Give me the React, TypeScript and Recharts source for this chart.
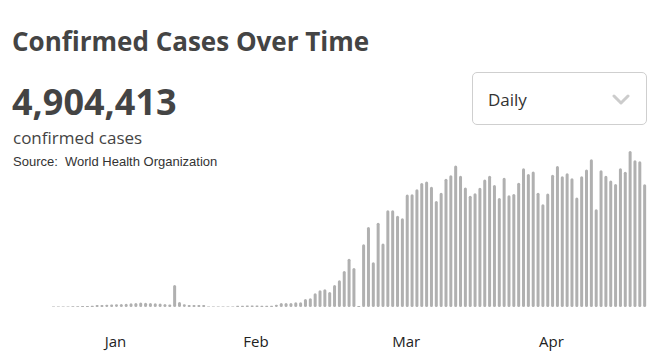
import * as React from "react";
import { BarChart, Bar, XAxis, YAxis } from "recharts";

// daily new confirmed cases, Jan 18 -> May 19 (2020)
const START_DATE = "2020-01-18";
const DAILY_CASES = [
  // Jan 18 - Jan 31
  300, 300, 300, 400, 500, 500, 700, 700, 800, 1400, 1400, 1600, 1700, 1900,
  // Feb
  2100, 2300, 2500, 2800, 3100, 3000, 2800, 2600, 2400, 2100, 1700, 15100, 3400, 1900,
  1400, 1400, 1400, 1300, 400, 400, 300, 400, 300, 400, 900, 900, 1000, 1100, 1100,
  // Mar
  900, 900, 900, 1600, 2800, 2800, 2800, 3200, 3200, 5500, 6000, 9400, 11500, 12200,
  10300, 15100, 18400, 24800, 33200, 26800, 700, 43100, 55000, 30800, 58000, 43600,
  66500, 66500, 62800, 61000, 77300,
  // Apr
  77500, 81000, 85300, 86200, 82600, 72900, 78600, 88100, 90600, 97200, 90300, 82100,
  76400, 78200, 81900, 87600, 90300, 83900, 75000, 88800, 76800, 77700, 85500, 95400,
  91500, 93100, 78600, 70700, 78000, 91000,
  // May 1 - May 19
  97000, 89900, 92000, 88500, 75200, 89900, 94500, 101600, 67200, 94000, 90300, 86900,
  84600, 95400, 92900, 107300, 100900, 100200, 84400,
];

// month labels sit on the last day of each month
const TICK_DATES = ["2020-01-31", "2020-02-29", "2020-03-31", "2020-04-30"];
const TICK_LABELS = ["Jan", "Feb", "Mar", "Apr"];

const TOTAL = "4,904,413";

const BAR_COLOR = "#b0b0b0";
const TEXT_DARK = "#444444";

function buildData() {
  const start = new Date(START_DATE + "T00:00:00Z");
  return DAILY_CASES.map((cases, i) => {
    const d = new Date(start.getTime() + i * 86400000);
    return { date: d.toISOString().slice(0, 10), cases };
  });
}

const MonthTick = (props: any) => {
  const { x, y, payload } = props;
  const idx = TICK_DATES.indexOf(payload.value);
  return (
    <text
      x={x - 1}
      y={y + 40}
      textAnchor="middle"
      fill="#222"
      fontSize={15}
      fontFamily="'Open Sans', sans-serif"
    >
      {idx >= 0 ? TICK_LABELS[idx] : ""}
    </text>
  );
};

export default function App() {
  const data = buildData();

  return (
    <div
      style={{
        position: "absolute",
        left: 0,
        top: 0,
        width: 662,
        height: 364,
        background: "#fff",
        overflow: "hidden",
        fontFamily: "'Open Sans', sans-serif",
        color: TEXT_DARK,
      }}
    >
      <BarChart
        width={662}
        height={364}
        data={data}
        barSize={3}
        margin={{ top: 147, right: 15, bottom: 27, left: 51 }}
        style={{ position: "absolute", left: 0, top: 0 }}
      >
        <XAxis
          dataKey="date"
          ticks={TICK_DATES}
          interval={0}
          axisLine={false}
          tickLine={false}
          tickSize={0}
          tickMargin={0}
          height={30}
          tick={<MonthTick />}
        />
        <YAxis hide domain={[0, 110000]} />
        <Bar
          dataKey="cases"
          fill={BAR_COLOR}
          radius={[1.5, 1.5, 1.5, 1.5]}
          isAnimationActive={false}
        />
      </BarChart>

      <div
        style={{
          position: "absolute",
          left: 12,
          top: 28,
          fontSize: 26,
          fontWeight: 700,
          lineHeight: 1,
        }}
      >
        Confirmed Cases Over Time
      </div>
      <div
        style={{
          position: "absolute",
          left: 12,
          top: 84,
          fontSize: 36,
          fontWeight: 700,
          lineHeight: 1,
        }}
      >
        {TOTAL}
      </div>
      <div
        style={{
          position: "absolute",
          left: 13,
          top: 129,
          fontSize: 17,
          lineHeight: 1,
        }}
      >
        confirmed cases
      </div>
      <div
        style={{
          position: "absolute",
          left: 13,
          top: 155,
          fontSize: 13,
          lineHeight: 1,
          fontFamily: "'Liberation Sans', Arial, sans-serif",
          color: "#333",
          whiteSpace: "pre",
        }}
      >
        {"Source:  World Health Organization"}
      </div>

      {/* period dropdown */}
      <div
        style={{
          position: "absolute",
          left: 472,
          top: 72,
          width: 173,
          height: 51,
          border: "1px solid #cfcfcf",
          borderRadius: 5,
        }}
      >
        <span
          style={{
            position: "absolute",
            left: 15,
            top: 18,
            fontSize: 17,
            lineHeight: 1,
            color: "#333",
          }}
        >
          Daily
        </span>
        <svg
          width={20}
          height={14}
          style={{ position: "absolute", left: 139, top: 20 }}
        >
          <polyline
            points="2,3 9,10 16,3"
            fill="none"
            stroke="#cccccc"
            strokeWidth={3}
            strokeLinecap="round"
            strokeLinejoin="round"
          />
        </svg>
      </div>
    </div>
  );
}
